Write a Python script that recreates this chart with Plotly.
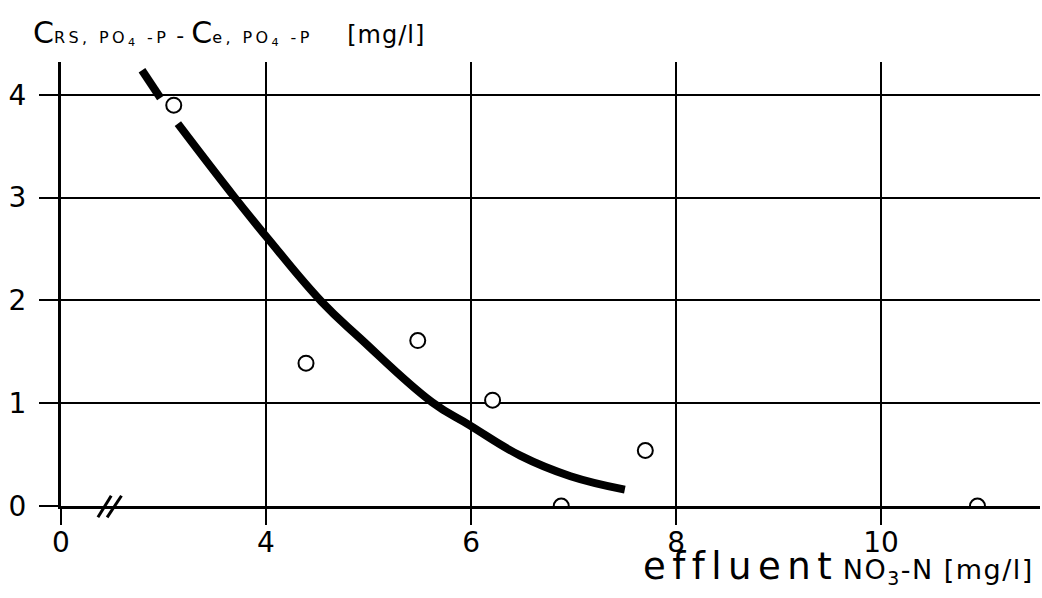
import plotly.graph_objects as go

# Data (x in mg/l NO3-N; axis is broken between 0 and ~3)
pts_x = [3.10, 4.39, 5.48, 6.21, 6.88, 7.70, 10.94]
pts_y = [3.90, 1.39, 1.61, 1.03, 0.00, 0.54, 0.00]

# Hand-drawn trend curve (gap around the first circle)
curve_x = [2.79, 2.97, None, 3.14, 3.68, 4.02, 4.54, 4.92, 5.62, 5.98, 6.48, 6.97, 7.50]
curve_y = [4.24, 3.97, None, 3.72, 3.02, 2.60, 1.99, 1.63, 1.01, 0.79, 0.49, 0.29, 0.16]

# Broken axis: position 2 carries the label "0"
x_tickvals = [2, 4, 6, 8, 10]
x_ticktext = ["0", "4", "6", "8", "10"]
y_tickvals = [0, 1, 2, 3, 4]
y_ticktext = ["0", "1", "2", "3", "4"]

FONT = "DejaVu Sans"
XR = [2, 11.55]
YR = [0, 4.32]

fig = go.Figure()
fig.add_trace(go.Scatter(x=curve_x, y=curve_y, mode="lines",
                         line=dict(color="black", width=8, shape="spline", smoothing=1.2),
                         connectgaps=False, hoverinfo="skip", showlegend=False))
fig.add_trace(go.Scatter(x=pts_x, y=pts_y, mode="markers",
                         marker=dict(symbol="circle", size=15, color="white",
                                     line=dict(color="black", width=2)),
                         cliponaxis=True, showlegend=False))

def px_(v):
    return (v - XR[0]) / (XR[1] - XR[0])

def py_(v):
    return (v - YR[0]) / (YR[1] - YR[0])

# axis-break mark "//"
for x0, x1 in [(2.36, 2.49), (2.45, 2.59)]:
    fig.add_shape(type="line", xref="paper", yref="paper",
                  x0=px_(x0), x1=px_(x1), y0=py_(-0.11), y1=py_(0.10),
                  line=dict(color="black", width=3))

title_text = ("C<span style='font-size:16px;letter-spacing:3.4px'>RS, PO<sub>4</sub> -P</span>"
              "<span style='font-size:22px'>&nbsp;-&nbsp;</span>"
              "C<span style='font-size:16px;letter-spacing:3.4px'>e, PO<sub>4</sub> -P</span>"
              "<span style='font-size:24px;letter-spacing:1px'>&nbsp;&nbsp;&nbsp;&nbsp;[mg/l]</span>")
xlabel_text = ("<span style='font-size:37px;letter-spacing:6.5px'>effluent</span>"
               "<span style='font-size:14px'>&nbsp;</span>"
               "<span style='font-size:27px;letter-spacing:1.5px'>NO<sub>3</sub>-N [mg/l]</span>")

fig.update_layout(
    width=1042, height=598,
    margin=dict(l=61, r=2, t=62, b=92, autoexpand=False),
    paper_bgcolor="white", plot_bgcolor="white",
    font=dict(family=FONT, color="black", size=26),
    xaxis=dict(range=XR, tickvals=x_tickvals, ticktext=x_ticktext, automargin=False,
               showgrid=True, gridcolor="black", gridwidth=2,
               showline=True, linecolor="black", linewidth=3,
               ticks="outside", ticklen=16, tickwidth=2, tickcolor="black",
               zeroline=False, ticklabelstandoff=-7, tickfont=dict(size=28, family=FONT)),
    yaxis=dict(range=YR, tickvals=y_tickvals, ticktext=y_ticktext, automargin=False,
               showgrid=True, gridcolor="black", gridwidth=2,
               showline=True, linecolor="black", linewidth=3,
               ticks="outside", ticklen=19, tickwidth=2, tickcolor="black",
               zeroline=False, ticklabelstandoff=7, tickfont=dict(size=28, family=FONT)),
    annotations=[
        dict(xref="paper", yref="paper", x=-0.03, y=1.0, xanchor="left", yanchor="bottom",
             xshift=-1, yshift=10, showarrow=False, align="left",
             text=title_text, font=dict(size=30, family=FONT)),
        dict(xref="paper", yref="paper", x=1.0, y=0, xanchor="right", yanchor="top",
             xshift=-4, yshift=-37, showarrow=False,
             text=xlabel_text, font=dict(size=30, family=FONT)),
    ],
)

fig.write_html("out.html", config={"displayModeBar": False},
               post_script="document.body.style.margin='0';document.body.style.overflow='hidden';")
